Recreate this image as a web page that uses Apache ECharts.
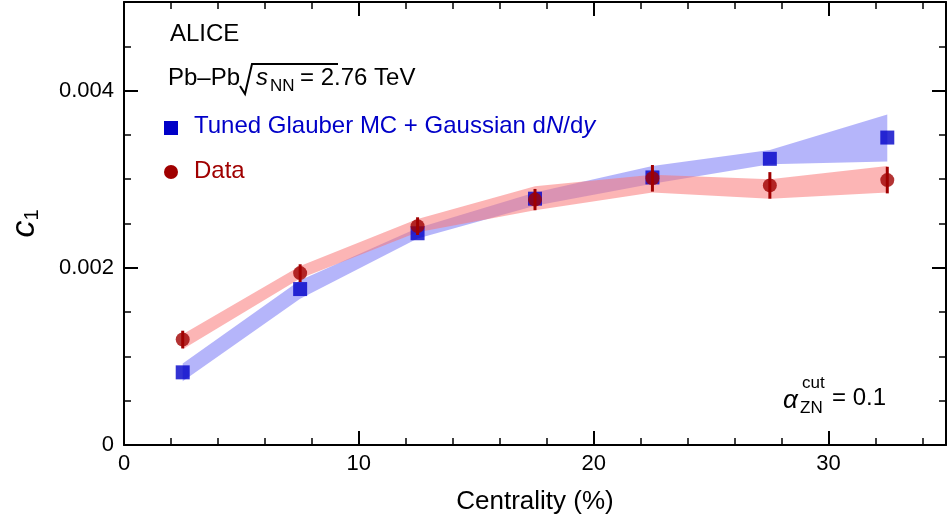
<!DOCTYPE html>
<html><head><meta charset="utf-8">
<script src="https://cdn.jsdelivr.net/npm/echarts@6/dist/echarts.min.js"></script>
<style>html,body{margin:0;background:#fff}#c{width:950px;height:520px}</style>
</head><body><div id="c"></div>
<script>
const centrality = [2.5, 7.5, 12.5, 17.5, 22.5, 27.5, 32.5]
// values in units of 1e-3
const mcValues = [0.82, 1.76, 2.39, 2.78, 3.02, 3.23, 3.47]
const mcLow = [0.72, 1.65, 2.33, 2.70, 2.95, 3.17, 3.20]
const mcHigh = [0.92, 1.86, 2.45, 2.85, 3.15, 3.33, 3.73]
const dataValues = [1.19, 1.94, 2.47, 2.77, 3.01, 2.93, 2.99]
const dataErr = [0.10, 0.10, 0.10, 0.12, 0.15, 0.15, 0.15]
const dataLow = [1.08, 1.88, 2.40, 2.65, 2.85, 2.78, 2.85]
const dataHigh = [1.25, 2.02, 2.55, 2.92, 3.05, 3.00, 3.15]

const FONT = '"Liberation Sans", Arial, sans-serif'
const s = v => v / 1000

function band(lo, hi, color, z) {
  return {
    type: 'custom', z, silent: true,
    data: [0],
    renderItem: (params, api) => {
      const pts = centrality.map((x, i) => api.coord([x, s(hi[i])]))
      for (let i = centrality.length - 1; i >= 0; i--) pts.push(api.coord([centrality[i], s(lo[i])]))
      return { type: 'polygon', shape: { points: pts }, style: { fill: color } }
    }
  }
}

const axisCommon = {
  axisLine: { show: true, onZero: false, lineStyle: { color: '#000', width: 2 } },
  axisTick: { show: true, inside: true, length: 14, lineStyle: { color: '#000', width: 2 } },
  minorTick: { show: true, splitNumber: 5, length: 7, lineStyle: { color: '#000', width: 1.5 } },
  splitLine: { show: false }
}

const chart = echarts.init(document.getElementById('c'))
chart.setOption({
  animation: false,
  textStyle: { fontFamily: FONT },
  grid: { left: 122, right: 4, top: 2, bottom: 69 },
  xAxis: [
    { ...axisCommon, type: 'value', min: 0, max: 35, interval: 10,
      name: 'Centrality (%)', nameLocation: 'middle', nameGap: 44,
      nameTextStyle: { fontSize: 26, color: '#000', fontFamily: FONT },
      axisLabel: { fontSize: 22, color: '#000', margin: 8, fontFamily: FONT,
        formatter: v => v === 35 ? '' : String(v) } },
    { ...axisCommon, type: 'value', position: 'top', min: 0, max: 35, interval: 10, axisLabel: { show: false } }
  ],
  yAxis: [
    { ...axisCommon, type: 'value', min: 0, max: 0.005, interval: 0.002,
      minorTick: { ...axisCommon.minorTick, splitNumber: 4 },
      name: '{c|c}{sub|1}', nameLocation: 'middle', nameGap: 82, nameRotate: 90,
      nameTextStyle: { rich: { c: { fontSize: 34, fontStyle: 'italic', color: '#000', fontFamily: FONT },
        sub: { fontSize: 20, color: '#000', verticalAlign: 'bottom', padding: [12, 0, 0, 0], fontFamily: FONT } } },
      axisLabel: { fontSize: 22, color: '#000', margin: 10, fontFamily: FONT,
        formatter: v => v === 0 ? '0' : (v > 0.0045 ? '' : v.toFixed(3)) } },
    { ...axisCommon, type: 'value', position: 'right', min: 0, max: 0.005, interval: 0.002,
      minorTick: { ...axisCommon.minorTick, splitNumber: 4 }, axisLabel: { show: false } }
  ],
  series: [
    band(mcLow, mcHigh, 'rgba(120,120,245,0.55)', 1),
    band(dataLow, dataHigh, 'rgba(250,120,120,0.55)', 2),
    { type: 'scatter', z: 5, symbol: 'rect', symbolSize: 14, itemStyle: { color: '#0000c8' },
      data: centrality.map((x, i) => [x, s(mcValues[i])]) },
    { type: 'custom', z: 6,
      data: centrality.map((x, i) => [x, s(dataValues[i] - dataErr[i]), s(dataValues[i] + dataErr[i])]),
      renderItem: (params, api) => {
        const a = api.coord([api.value(0), api.value(1)])
        const b = api.coord([api.value(0), api.value(2)])
        return { type: 'line', shape: { x1: a[0], y1: a[1], x2: b[0], y2: b[1] }, style: { stroke: '#a00000', lineWidth: 3 } }
      } },
    { type: 'scatter', z: 7, symbol: 'circle', symbolSize: 14, itemStyle: { color: '#a00000' },
      data: centrality.map((x, i) => [x, s(dataValues[i])]) }
  ],
  graphic: [
    { type: 'text', left: 170, top: 22, style: { text: 'ALICE', fontSize: 24, fill: '#000', fontFamily: FONT } },
    { type: 'text', left: 168, top: 66, style: { text: 'Pb–Pb', fontSize: 24, fill: '#000', fontFamily: FONT } },
    { type: 'polyline', shape: { points: [[240, 86], [245, 94], [252, 64], [338, 64]] }, style: { stroke: '#000', lineWidth: 2, fill: null } },
    { type: 'text', left: 255, top: 66, style: { text: 'ſ', fontSize: 1, fill: 'transparent' } },
    { type: 'text', left: 256, top: 66, style: { text: 's', fontSize: 24, fontStyle: 'italic', fill: '#000', fontFamily: FONT } },
    { type: 'text', left: 270, top: 78, style: { text: 'NN', fontSize: 17, fill: '#000', fontFamily: FONT } },
    { type: 'text', left: 300, top: 66, style: { text: '= 2.76 TeV', fontSize: 24, fill: '#000', fontFamily: FONT } },
    { type: 'rect', shape: { x: 164, y: 121, width: 14, height: 14 }, style: { fill: '#0000c8' } },
    { type: 'text', left: 194, top: 114, style: { text: 'Tuned Glauber MC + Gaussian d{i|N}/d{i|y}', fontSize: 24, fill: '#0000c8', fontFamily: FONT,
      rich: { i: { fontStyle: 'italic', fontSize: 24, fill: '#0000c8', fontFamily: FONT } } } },
    { type: 'circle', shape: { cx: 171, cy: 172, r: 7 }, style: { fill: '#a00000' } },
    { type: 'text', left: 194, top: 159, style: { text: 'Data', fontSize: 24, fill: '#a00000', fontFamily: FONT } },
    { type: 'text', left: 783, top: 388, style: { text: 'α', fontSize: 26, fontStyle: 'italic', fill: '#000', fontFamily: FONT } },
    { type: 'text', left: 802, top: 375, style: { text: 'cut', fontSize: 17, fill: '#000', fontFamily: FONT } },
    { type: 'text', left: 800, top: 400, style: { text: 'ZN', fontSize: 17, fill: '#000', fontFamily: FONT } },
    { type: 'text', left: 832, top: 386, style: { text: '= 0.1', fontSize: 24, fill: '#000', fontFamily: FONT } }
  ]
})
</script>
</body></html>
